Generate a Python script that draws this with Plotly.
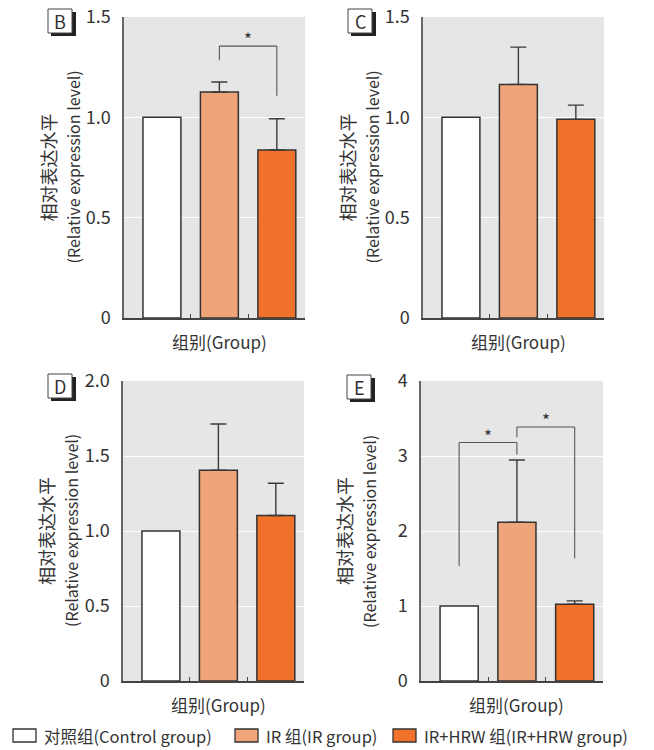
import plotly.graph_objects as go

# ---- data -------------------------------------------------------------
GROUPS = ["对照组(Control group)", "IR 组(IR group)", "IR+HRW 组(IR+HRW group)"]
PANELS = ["B", "C", "D", "E"]

MEAN_B = [1.0, 1.126, 0.837]
SD_B = [0.0, 0.050, 0.156]
MEAN_C = [1.0, 1.164, 0.990]
SD_C = [0.0, 0.186, 0.071]
MEAN_D = [1.0, 1.405, 1.103]
SD_D = [0.0, 0.308, 0.215]
MEAN_E = [1.0, 2.117, 1.025]
SD_E = [0.0, 0.830, 0.044]

YMAX = [1.5, 1.5, 2.0, 4.0]
YTICKS_B = [0, 0.5, 1.0, 1.5]
YTICKS_C = [0, 0.5, 1.0, 1.5]
YTICKS_D = [0, 0.5, 1.0, 1.5, 2.0]
YTICKS_E = [0, 1, 2, 3, 4]
YTICKTEXT_B = ["0", "0.5", "1.0", "1.5"]
YTICKTEXT_C = ["0", "0.5", "1.0", "1.5"]
YTICKTEXT_D = ["0", "0.5", "1.0", "1.5", "2.0"]
YTICKTEXT_E = ["0", "1", "2", "3", "4"]

# significance: (group a, group b, bracket top, leg end a, leg end b)
SIG_B = [(1, 2, 1.355, 1.285, 1.108)]
SIG_C = []
SIG_D = []
SIG_E = [(0, 1, 3.18, 1.535, 3.02), (1, 2, 3.386, 3.25, 1.638)]

Y_TITLE_CN = "相对表达水平"
Y_TITLE_EN = "(Relative expression level)"
X_TITLE = "组别(Group)"

# ---- styling ----------------------------------------------------------
W, H = 654, 750
FONT = "Noto Sans CJK SC"
TXT = "#333333"
FILLS = ["#FFFFFF", "#F0A479", "#F0722A"]
EDGE = "#333333"
BG = "#E6E6E6"

# plot areas in pixels: (left, right, top, bottom)
AREAS = [(124, 305, 17, 318), (423, 604, 17, 318),
         (123, 304, 381, 681), (421, 603, 381, 681)]
BOXES = [(48, 9), (348, 9), (48, 374), (347, 375)]

means = [MEAN_B, MEAN_C, MEAN_D, MEAN_E]
sds = [SD_B, SD_C, SD_D, SD_E]
yticks = [YTICKS_B, YTICKS_C, YTICKS_D, YTICKS_E]
ytext = [YTICKTEXT_B, YTICKTEXT_C, YTICKTEXT_D, YTICKTEXT_E]
sigs = [SIG_B, SIG_C, SIG_D, SIG_E]


def px_x(v):
    return v / W


def px_y(v):
    return 1 - v / H


def label(text, x, y, size, **kw):
    d = dict(text=text, x=x, y=y, showarrow=False, xanchor="center",
             yanchor="middle", font=dict(family=FONT, size=size, color=TXT))
    d.setdefault("xref", "paper")
    d.setdefault("yref", "paper")
    d.update(kw)
    return d


fig = go.Figure()
shapes, annos = [], []
layout = {}

for p, (l, r, t, b) in enumerate(AREAS):
    sfx = "" if p == 0 else str(p + 1)
    xa, ya = "x" + sfx, "y" + sfx

    for g in range(3):
        bar = dict(
            x=[g], y=[means[p][g]], xaxis=xa, yaxis=ya, width=0.66,
            marker=dict(color=FILLS[g], line=dict(color=EDGE, width=1.5)),
            showlegend=False, hoverinfo="skip",
        )
        if sds[p][g] > 0:
            bar["error_y"] = dict(type="data", symmetric=False,
                                  array=[sds[p][g]], arrayminus=[0],
                                  color="#3a3a3a", thickness=1.4, width=8)
        fig.add_trace(go.Bar(**bar))

    layout["xaxis" + sfx] = dict(
        domain=[px_x(l), px_x(r)], anchor=ya, range=[-0.66, 2.49],
        tickvals=[0.5, 1.5], ticktext=["", ""], ticks="inside", ticklen=4,
        tickcolor="#444444", tickwidth=1.2, showgrid=False, zeroline=False,
        showline=True, linecolor="#444444", linewidth=1.5, fixedrange=True,
        automargin=False,
    )
    layout["yaxis" + sfx] = dict(
        domain=[px_y(b), px_y(t)], anchor=xa, range=[0, YMAX[p]],
        tickvals=yticks[p], ticktext=ytext[p], ticks="",
        ticklabelstandoff=8,
        tickfont=dict(family=FONT, size=18, color=TXT),
        showgrid=True, gridcolor="#FFFFFF", gridwidth=1, zeroline=False,
        showline=True, linecolor="#666666", linewidth=1.5, fixedrange=True,
        automargin=False,
    )

    # grey plotting panel
    shapes.append(dict(type="rect", xref="paper", yref="paper",
                       x0=px_x(l), x1=px_x(r), y0=px_y(b), y1=px_y(t),
                       fillcolor=BG, line=dict(width=0), layer="below"))

    # rotated y-axis title, two lines
    cy = px_y((t + b) / 2)
    annos.append(label(Y_TITLE_CN, px_x(l - 77), cy, 18, textangle=-90))
    annos.append(label(Y_TITLE_EN, px_x(l - 52), cy, 16, textangle=-90))
    # x-axis title, centred under the middle group
    annos.append(label(X_TITLE, 1, px_y(b + 23), 17, xref=xa))

    # panel letter in a shadowed box
    bx, by = BOXES[p]
    shapes.append(dict(type="rect", xref="paper", yref="paper",
                       x0=px_x(bx + 3), x1=px_x(bx + 28), y0=px_y(by + 27),
                       y1=px_y(by + 3), fillcolor="#222222",
                       line=dict(width=0)))
    shapes.append(dict(type="rect", xref="paper", yref="paper",
                       x0=px_x(bx), x1=px_x(bx + 24), y0=px_y(by + 24),
                       y1=px_y(by), fillcolor="#FFFFFF",
                       line=dict(color="#444444", width=1)))
    annos.append(label(PANELS[p], px_x(bx + 12), px_y(by + 12), 18))

    # significance brackets
    for (a, c, top, ea, ec) in sigs[p]:
        line = dict(color="#555555", width=1.1)
        for (x0, x1, y0, y1) in [(a, a, ea, top), (a, c, top, top),
                                 (c, c, top, ec)]:
            shapes.append(dict(type="line", xref=xa, yref=ya, x0=x0, x1=x1,
                               y0=y0, y1=y1, line=line))
        annos.append(label("*", (a + c) / 2, top, 17, xref=xa, yref=ya,
                           yanchor="bottom", yshift=-7))

# legend row along the bottom
LEG_X = [13, 235, 393]
LEG_Y = 735.5
for g in range(3):
    x0 = LEG_X[g]
    shapes.append(dict(type="rect", xref="paper", yref="paper",
                       x0=px_x(x0), x1=px_x(x0 + 23), y0=px_y(LEG_Y + 6.5),
                       y1=px_y(LEG_Y - 6.5), fillcolor=FILLS[g],
                       line=dict(color=EDGE, width=1.3)))
    annos.append(label(GROUPS[g], px_x(x0 + 29), px_y(LEG_Y), 16.5,
                       xanchor="left"))

fig.update_layout(
    width=W, height=H, margin=dict(l=0, r=0, t=0, b=0, autoexpand=False),
    paper_bgcolor="#FFFFFF", plot_bgcolor="rgba(0,0,0,0)",
    barmode="overlay", showlegend=False,
    shapes=shapes, annotations=annos, **layout,
)

fig.write_html("out.html", config={"displayModeBar": False})
